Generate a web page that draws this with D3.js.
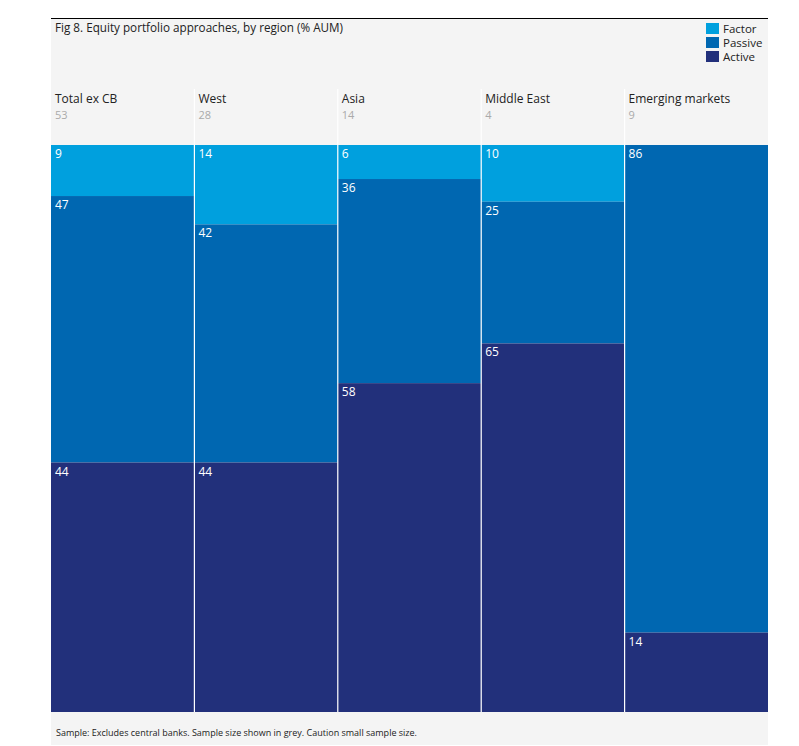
<!DOCTYPE html>
<html>
<head>
<meta charset="utf-8">
<script src="https://cdn.jsdelivr.net/npm/d3@7"></script>
<style>
  body { margin: 0; background: #fff; }
  text { font-family: "Open Sans", "DejaVu Sans", sans-serif; }
</style>
</head>
<body>
<div class="canva"></div>
<script>
// data
const regions = ['Total ex CB', 'West', 'Asia', 'Middle East', 'Emerging markets'];
const sampleSizes = [53, 28, 14, 4, 9];
const factor = [9, 14, 6, 10, 0];
const passive = [47, 42, 36, 25, 86];
const active = [44, 44, 58, 65, 14];
const seriesNames = ['Factor', 'Passive', 'Active'];
const colours = ['#00a0de', '#0067b1', '#22307b'];

const width = 799, height = 746;
const panelLeft = 51, panelRight = 768, panelTop = 19, panelBottom = 745;
const barTop = 145, barBottom = 712;

const svg = d3.select('.canva').append('svg')
    .attr('width', width)
    .attr('height', height);

// grey panel + top rule
svg.append('rect')
    .attr('x', panelLeft).attr('y', panelTop)
    .attr('width', panelRight - panelLeft).attr('height', panelBottom - panelTop)
    .attr('fill', '#f4f4f4');
svg.append('line')
    .attr('x1', panelLeft).attr('x2', panelRight)
    .attr('y1', 18.5).attr('y2', 18.5)
    .attr('stroke', '#000').attr('stroke-width', 1);

svg.append('text')
    .attr('x', 55).attr('y', 32)
    .attr('font-size', 11.7).attr('fill', '#222')
    .text('Fig 8. Equity portfolio approaches, by region (% AUM)');

// table for stacking
const table = regions.map((r, i) => ({
    region: r, Factor: factor[i], Passive: passive[i], Active: active[i]
}));
const stack = d3.stack().keys(seriesNames)(table);

const x = d3.scaleBand().domain(regions).range([panelLeft, panelRight]).padding(0);
const y = d3.scaleLinear().domain([0, 100]).range([barTop, barBottom]);
const colour = d3.scaleOrdinal().domain(seriesNames).range(colours);

const layers = svg.selectAll('g.layer')
    .data(stack)
    .enter().append('g')
    .attr('class', 'layer')
    .attr('fill', d => colour(d.key));

layers.selectAll('rect')
    .data(d => d)
    .enter().append('rect')
    .attr('x', d => x(d.data.region))
    .attr('width', x.bandwidth())
    .attr('y', d => y(d[0]))
    .attr('height', d => y(d[1]) - y(d[0]));

layers.selectAll('text')
    .data(d => d.filter(s => s[1] - s[0] > 0))
    .enter().append('text')
    .attr('x', d => x(d.data.region) + 4)
    .attr('y', d => y(d[0]) + 13)
    .attr('fill', '#fff')
    .attr('font-size', 12)
    .text(d => d[1] - d[0]);

// white separators between columns
svg.selectAll('line.sep')
    .data(regions.slice(1))
    .enter().append('line')
    .attr('class', 'sep')
    .attr('x1', d => x(d)).attr('x2', d => x(d))
    .attr('y1', 89).attr('y2', barBottom)
    .attr('stroke', '#fff').attr('stroke-width', 1.2);

// column headers
svg.selectAll('text.region')
    .data(regions)
    .enter().append('text')
    .attr('class', 'region')
    .attr('x', d => x(d) + 4)
    .attr('y', 103)
    .attr('font-size', 12).attr('fill', '#222')
    .text(d => d);

svg.selectAll('text.n')
    .data(regions)
    .enter().append('text')
    .attr('class', 'n')
    .attr('x', d => x(d) + 4)
    .attr('y', 118.5)
    .attr('font-size', 11).attr('fill', '#aaa')
    .text((d, i) => sampleSizes[i]);

// legend
const legend = svg.selectAll('g.legend')
    .data(seriesNames)
    .enter().append('g')
    .attr('class', 'legend')
    .attr('transform', (d, i) => `translate(706, ${23 + i * 14})`);
legend.append('rect')
    .attr('width', 13).attr('height', 11)
    .attr('fill', d => colour(d));
legend.append('text')
    .attr('x', 17).attr('y', 10)
    .attr('font-size', 11.5).attr('fill', '#222')
    .text(d => d);

svg.append('text')
    .attr('x', 56).attr('y', 736)
    .attr('font-size', 9).attr('fill', '#222')
    .text('Sample: Excludes central banks. Sample size shown in grey. Caution small sample size.');
</script>
</body>
</html>
